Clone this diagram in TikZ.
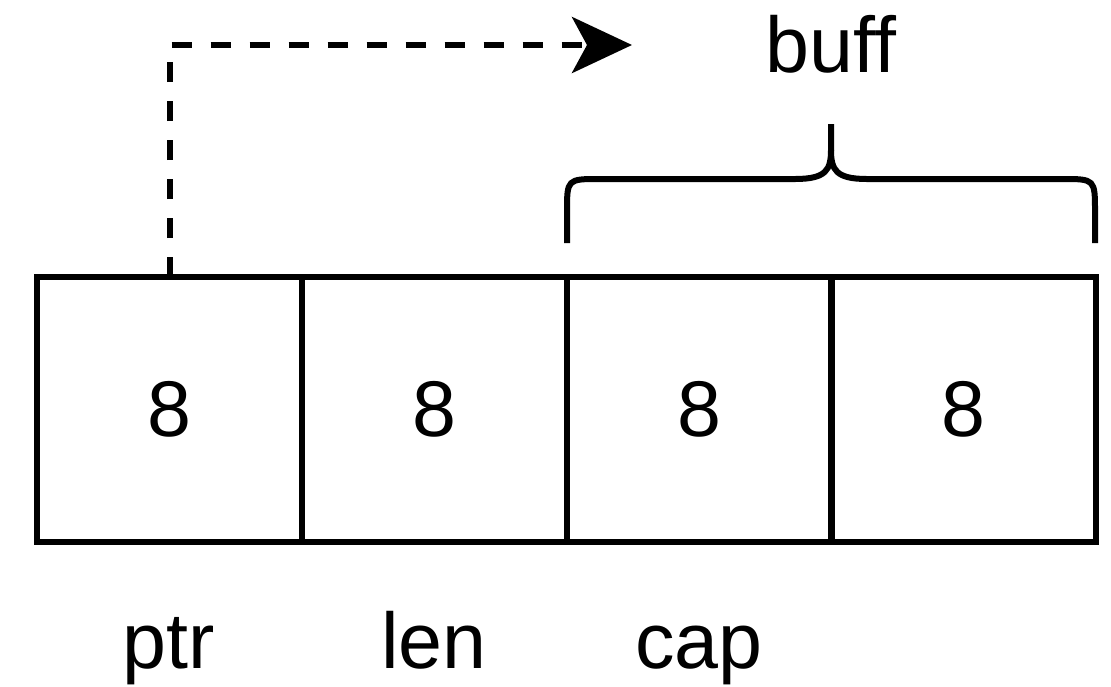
\documentclass[tikz,border=0pt]{standalone}
\usepackage{fontspec}
\setmainfont{Liberation Sans}
\usetikzlibrary{arrows.meta}
\begin{document}
\begin{tikzpicture}[x=1pt,y=-1pt,
  cell/.style={draw, line width=6pt, minimum width=265pt, minimum height=265pt, outer sep=0pt, inner sep=0pt, font=\fontsize{79}{90}\selectfont},
  lbl/.style={anchor=base, inner sep=0pt, font=\fontsize{79}{90}\selectfont},
  thick6/.style={line width=6pt}
]
\useasboundingbox (0,0) rectangle (1111,686);
\node[cell] (c1) at (169.5,409.5) {8};
\node[cell] (c2) at (434.5,409.5) {8};
\node[cell] (c3) at (699.5,409.5) {8};
\node[cell] (c4) at (963.5,409.5) {8};
\node[lbl] (ptr) at (169,668) {ptr};
\node[lbl] (len) at (434,668) {len};
\node[lbl] (cap) at (699,668) {cap};
\node[lbl] (buff) at (831,72) {buff};
\coordinate (tip) at (632,45);
\draw[thick6, dash pattern=on 20pt off 19pt, -{Stealth[length=60pt,width=56pt,inset=15pt]}] (c1.north) |- (tip);
\coordinate (bl) at (567,243);
\coordinate (br) at (1095,243);
\coordinate (bm) at (831,124);
\draw[thick6] (bl) -- (567,212) .. controls (567,179) .. (600,179) -- (795,179)
  .. controls (826,179) and (831,170) .. (831,150) -- (bm);
\draw[thick6] (br) -- (1095,212) .. controls (1095,179) .. (1062,179) -- (867,179)
  .. controls (836,179) and (831,170) .. (831,150);
\end{tikzpicture}
\end{document}
